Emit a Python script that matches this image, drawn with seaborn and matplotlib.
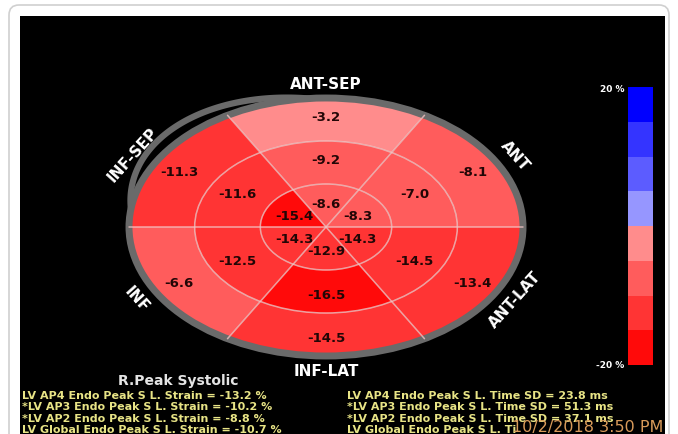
import numpy as np
import matplotlib
matplotlib.use("Agg")
import matplotlib.pyplot as plt
from matplotlib.colors import ListedColormap, BoundaryNorm
from matplotlib.patches import Wedge, Ellipse, FancyBboxPatch, Rectangle
import seaborn as sns

# segment order: ANT-SEP (top), INF-SEP, INF, INF-LAT, ANT-LAT, ANT
segment_names = ["ANT-SEP", "INF-SEP", "INF", "INF-LAT", "ANT-LAT", "ANT"]
segment_angles = [90, 150, 210, 270, 330, 30]
basal_strain = [-3.2, -11.3, -6.6, -14.5, -13.4, -8.1]
mid_strain = [-9.2, -11.6, -12.5, -16.5, -14.5, -7.0]
apical_strain = [-8.6, -15.4, -14.3, -12.9, -14.3, -8.3]

# colour scale, low to high (-20 % .. 20 %)
scale_bounds = [-20, -15, -10, -5, 0, 5, 10, 15, 20]
scale_colors = ["#ff0a0a", "#ff3434", "#ff5c5c", "#ff8c8c",
                "#9696ff", "#5c5cff", "#3434ff", "#0000ff"]
scale_labels = ["20 %", "-20 %"]

title_text = "R.Peak Systolic"
strain_lines = ["LV AP4 Endo Peak S L. Strain = -13.2 %",
                "*LV AP3 Endo Peak S L. Strain = -10.2 %",
                "*LV AP2 Endo Peak S L. Strain = -8.8 %",
                "LV Global Endo Peak S L. Strain = -10.7 %"]
time_lines = ["LV AP4 Endo Peak S L. Time SD = 23.8 ms",
              "*LV AP3 Endo Peak S L. Time SD = 51.3 ms",
              "*LV AP2 Endo Peak S L. Time SD = 37.1 ms",
              "LV Global Endo Peak S L. Ti"]
stamp_text = "10/2/2018 3:50 PM"

cmap = ListedColormap(scale_colors)
norm = BoundaryNorm(scale_bounds, cmap.N)

sns.set_theme(style="white")
W, H = 678, 435
fig = plt.figure(figsize=(W / 100, H / 100), dpi=100)
fig.patch.set_facecolor("white")

# background layer in pixel coordinates
bg = fig.add_axes([0, 0, 1, 1])
bg.set_xlim(0, W)
bg.set_ylim(H, 0)
bg.axis("off")
bg.add_patch(FancyBboxPatch((9, 6), 660, 440, boxstyle="round,pad=0,rounding_size=10",
                            fc="white", ec="#d0d0d0", lw=1.2))
bg.add_patch(Rectangle((20, 17), 645, 430, fc="black", ec="none"))

# bull's-eye: one data unit = 197 px across, 128 px up
cx, cy, rx, ry = 326, 228, 197, 129
xl, yl = 1.4, 1.2
ax = fig.add_axes([(cx - xl * rx) / W, (H - cy - yl * ry) / H,
                   2 * xl * rx / W, 2 * yl * ry / H])
ax.set_xlim(-xl, xl)
ax.set_ylim(-yl, yl)
ax.axis("off")
ax.patch.set_alpha(0)

rings = [(0.0, 1 / 3, apical_strain, 0.185),
         (1 / 3, 2 / 3, mid_strain, 0.52),
         (2 / 3, 1.0, basal_strain, 0.86)]
for r_in, r_out, vals, r_txt in rings:
    for ang, v in zip(segment_angles, vals):
        ax.add_patch(Wedge((0, 0), r_out, ang - 30, ang + 30, width=r_out - r_in,
                           fc=cmap(norm(v)), ec="none"))
        t = np.deg2rad(ang)
        ax.text(r_txt * np.cos(t), r_txt * np.sin(t), f"{v:.1f}", ha="center", va="center",
                fontsize=9.5, fontweight="bold", color="#220606")

# grid rings and spokes
for r in [1 / 3, 2 / 3]:
    ax.add_patch(Ellipse((0, 0), 2 * r, 2 * r, fill=False, ec="#f2c4c4", lw=1.1, alpha=0.8))
for a in [0, 60, 120]:
    t = np.deg2rad(a)
    ax.plot([-np.cos(t), np.cos(t)], [-np.sin(t), np.sin(t)], color="#f2c4c4", lw=1.1, alpha=0.8)

# outer gray rim and the extra crescent at upper left
ax.add_patch(Ellipse((0, 0), 2.0, 2.0, fill=False, ec="#6a6a6a", lw=5))
th = np.linspace(95, 172, 120)
bump = 1.0 + 0.09 * np.sin(np.pi * (th - 95) / 77)
ax.plot(bump * np.cos(np.deg2rad(th)), bump * np.sin(np.deg2rad(th)),
        color="#6a6a6a", lw=4.5, solid_capstyle="round")

# segment names around the rim
label_rot = {90: 0, 150: 48, 210: -48, 270: 0, 330: 48, 30: -48}
for name, ang in zip(segment_names, segment_angles):
    t = np.deg2rad(ang)
    r_lab = 1.13 if ang == 150 else 1.11
    ax.text(r_lab * np.cos(t), r_lab * np.sin(t), name, ha="center", va="center",
            rotation=label_rot[ang], fontsize=11, fontweight="bold", color="white")

# colour bar
cax = fig.add_axes([628 / W, (H - 366) / H, 25 / W, 278 / H])
mids = np.array([(a + b) / 2 for a, b in zip(scale_bounds[:-1], scale_bounds[1:])])[::-1]
sns.heatmap(mids.reshape(-1, 1), cmap=cmap, norm=norm, cbar=False, ax=cax,
            xticklabels=False, yticklabels=False)
bg.text(624, 90, scale_labels[0], ha="right", va="center", fontsize=6.5,
        fontweight="bold", color="white")
bg.text(624, 366, scale_labels[1], ha="right", va="center", fontsize=6.5,
        fontweight="bold", color="white")

# summary text
bg.text(178, 381, title_text, ha="center", va="center", fontsize=10,
        fontweight="bold", color="#e4e4e4")
for i, (a, b) in enumerate(zip(strain_lines, time_lines)):
    y = 396 + i * 11.3
    bg.text(22, y, a, ha="left", va="center", fontsize=8, fontweight="bold", color="#e8e486")
    bg.text(347, y, b, ha="left", va="center", fontsize=8, fontweight="bold", color="#e8e486")
bg.text(663, 428, stamp_text, ha="right", va="center", fontsize=11.5, color="#d89a5a")

fig.savefig("out.png", dpi=100, facecolor=fig.get_facecolor())
